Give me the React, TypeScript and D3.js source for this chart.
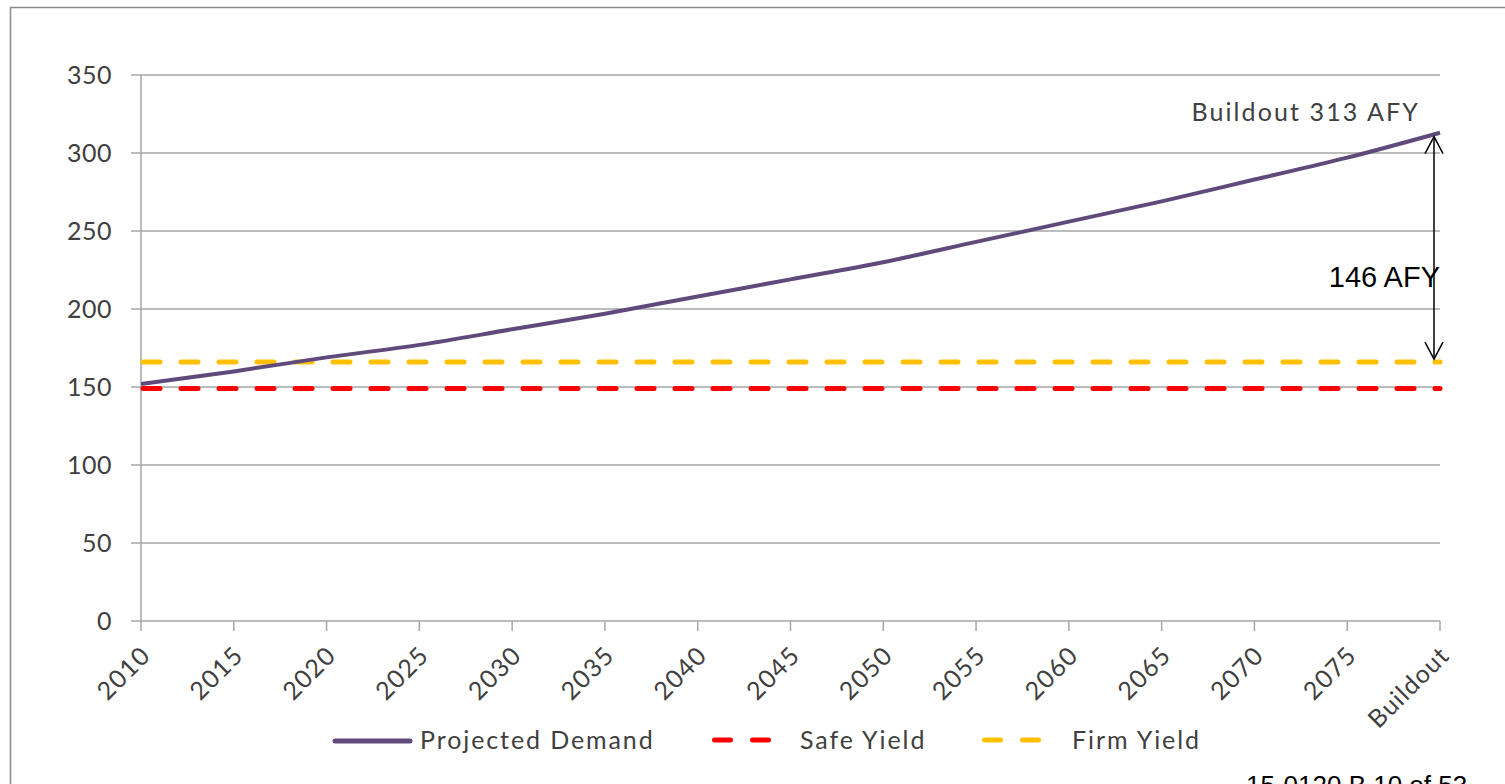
import React from "react";
import * as d3 from "d3";

const categories = ["2010","2015","2020","2025","2030","2035","2040","2045","2050","2055","2060","2065","2070","2075","Buildout"];
const projectedDemand = [152, 160, 169, 177, 187, 197, 208, 219, 230, 243, 256, 269, 283, 297, 313];
const safeYield = 149;
const firmYield = 166;
const yTicks = [0, 50, 100, 150, 200, 250, 300, 350];
const gapLabel = "146 AFY";
const buildoutLabel = "Buildout 313 AFY";
const footerText = "15-0120 B 10 of 53";

const W = 1505, H = 784;
const M = { left: 141, right: 65, top: 75, bottom: 163 };

export default function App() {
  const x = d3.scalePoint<string>().domain(categories).range([M.left, W - M.right]);
  const y = d3.scaleLinear().domain([0, 350]).range([H - M.bottom, M.top]);
  const line = d3.line<number>()
    .x((_, i) => x(categories[i]) as number)
    .y((d) => y(d))
    .curve(d3.curveMonotoneX);
  const x0 = x(categories[0]) as number;
  const x1 = x(categories[categories.length - 1]) as number;
  const font = "Lato, 'Open Sans', sans-serif";
  const txt = "#404040";
  const grid = "#a6a6a6";
  const ax = x1 - 6;
  const aTop = y(projectedDemand[projectedDemand.length - 1]) + 4;
  const aBot = y(firmYield) - 3;
  return (
    <svg width={W} height={H} style={{ position: "absolute", left: 0, top: 0, background: "#fff" }}>
      <rect x={10.5} y={7.5} width={W + 20} height={H + 20} fill="#fff" stroke="#8c8c8c" strokeWidth={1.5} />
      {yTicks.map((t) => (
        <g key={t}>
          <line x1={M.left - 10} x2={x1} y1={y(t)} y2={y(t)} stroke={grid} strokeWidth={1.5} />
          <text x={112} y={y(t)} dy="0.35em" textAnchor="end" fontFamily={font} fontSize={25} letterSpacing={0.5} fill={txt}>{t}</text>
        </g>
      ))}
      <line x1={M.left} x2={M.left} y1={M.top} y2={y(0)} stroke={grid} strokeWidth={1.5} />
      {categories.map((c) => (
        <g key={c}>
          <line x1={x(c)} x2={x(c)} y1={y(0)} y2={y(0) + 10} stroke={grid} strokeWidth={1.5} />
          <text transform={`translate(${(x(c) as number) + 11},${y(0) + 36}) rotate(-45)`} textAnchor="end" fontFamily={font} fontSize={25} letterSpacing={1.2} fill={txt}>{c}</text>
        </g>
      ))}
      <line x1={x0 + 2} x2={x1} y1={y(safeYield)} y2={y(safeYield)} stroke="#ff0000" strokeWidth={5} strokeDasharray="17 21" strokeLinecap="round" />
      <line x1={x0 + 2} x2={x1} y1={y(firmYield)} y2={y(firmYield)} stroke="#ffc000" strokeWidth={5} strokeDasharray="17 21" strokeLinecap="round" />
      <path d={line(projectedDemand) || ""} fill="none" stroke="#604a7b" strokeWidth={4} />
      <line x1={ax} x2={ax} y1={aTop} y2={aBot} stroke="#000" strokeWidth={1.5} />
      <polyline points={`${ax - 9},${aTop + 17} ${ax},${aTop} ${ax + 9},${aTop + 17}`} fill="none" stroke="#000" strokeWidth={1.5} />
      <polyline points={`${ax - 9},${aBot - 17} ${ax},${aBot} ${ax + 9},${aBot - 17}`} fill="none" stroke="#000" strokeWidth={1.5} />
      <text x={1440} y={287} textAnchor="end" fontFamily="'Liberation Sans', Arial, sans-serif" fontSize={29} fill="#000">{gapLabel}</text>
      <text x={1420} y={121} textAnchor="end" fontFamily={font} fontSize={25} letterSpacing={2.1} fill={txt}>{buildoutLabel}</text>
      <line x1={335} x2={410} y1={741} y2={741} stroke="#604a7b" strokeWidth={5} strokeLinecap="round" />
      <text x={420} y={749} fontFamily={font} fontSize={25} letterSpacing={1.9} fill={txt}>Projected Demand</text>
      <line x1={714.5} x2={770} y1={740} y2={740} stroke="#ff0000" strokeWidth={5} strokeDasharray="16 22" strokeLinecap="round" />
      <text x={800} y={749} fontFamily={font} fontSize={25} letterSpacing={1.9} fill={txt}>Safe Yield</text>
      <line x1={984.5} x2={1040} y1={740} y2={740} stroke="#ffc000" strokeWidth={5} strokeDasharray="16 22" strokeLinecap="round" />
      <text x={1072} y={749} fontFamily={font} fontSize={25} letterSpacing={1.9} fill={txt}>Firm Yield</text>
      <text x={1246} y={794} fontFamily="'Liberation Sans', Arial, sans-serif" fontSize={26} fill="#000">{footerText}</text>
    </svg>
  );
}
